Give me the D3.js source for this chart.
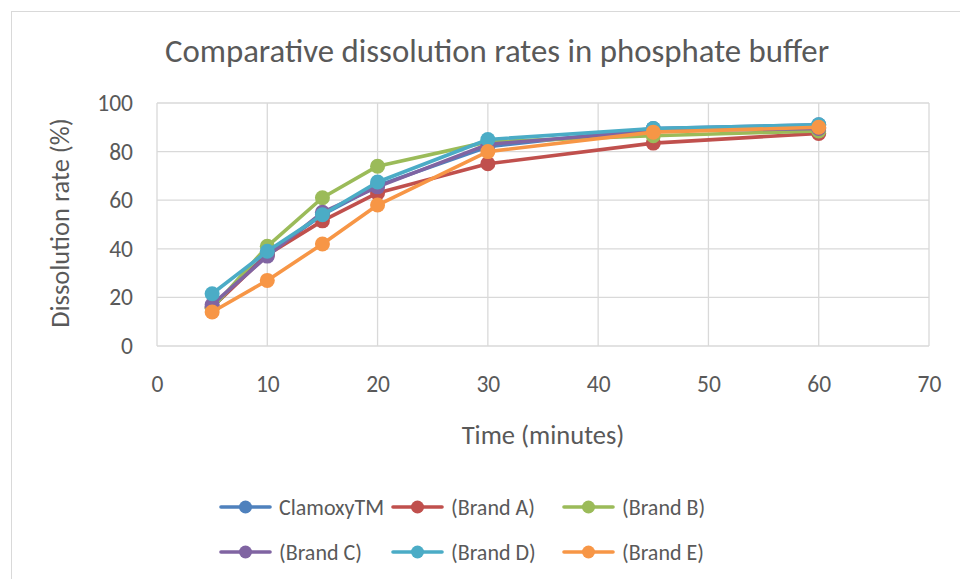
<!DOCTYPE html>
<html>
<head>
<meta charset="utf-8">
<script src="https://cdn.jsdelivr.net/npm/d3@7"></script>
<style>
  body { margin: 0; background: #fff; }
  svg text { font-family: Carlito, "Open Sans", sans-serif; fill: #595959; }
</style>
</head>
<body>
<div id="chart"></div>
<script>
// time points (minutes)
var times = [5, 10, 15, 20, 30, 45, 60];

// dissolution rate (%) per brand
var clamoxy = [16, 38, 54, 66, 82, 89.5, 91];
var brandA = [16, 37.5, 51.5, 63, 75, 83.5, 87.5];
var brandB = [15.5, 41, 61, 74, 84, 86.5, 88.5];
var brandC = [17, 37, 55, 65.5, 83, 88.5, 89.5];
var brandD = [21.5, 39, 54, 67.5, 85, 89.5, 91];
var brandE = [14, 27, 42, 58, 80, 88, 90];

var seriesNames = ["ClamoxyTM", "(Brand A)", "(Brand B)", "(Brand C)", "(Brand D)", "(Brand E)"];
var seriesValues = [clamoxy, brandA, brandB, brandC, brandD, brandE];
var colors = ["#4F81BD", "#C0504D", "#9BBB59", "#8064A2", "#4BACC6", "#F79646"];

var xTicks = [0, 10, 20, 30, 40, 50, 60, 70];
var yTicks = [0, 20, 40, 60, 80, 100];

var totalWidth = 960, totalHeight = 579;
var margin = { top: 103, right: 31, bottom: 233, left: 157 },
    width = totalWidth - margin.left - margin.right,
    height = totalHeight - margin.top - margin.bottom;

var outersvg = d3.select("#chart").append("svg")
    .attr("width", totalWidth)
    .attr("height", totalHeight);

// chart frame
outersvg.append("rect")
    .attr("x", 11.5).attr("y", 11.5)
    .attr("width", totalWidth).attr("height", totalHeight)
    .attr("fill", "none")
    .attr("stroke", "#d9d9d9");

outersvg.append("text")
    .attr("x", 497).attr("y", 62)
    .attr("text-anchor", "middle")
    .style("font-size", "32.8px")
    .text("Comparative dissolution rates in phosphate buffer");

var svg = outersvg.append("g")
    .attr("transform", "translate(" + margin.left + "," + margin.top + ")");

var x = d3.scaleLinear().domain([0, 70]).range([0, width]);
var y = d3.scaleLinear().domain([0, 100]).range([height, 0]);

// gridlines
svg.append("g").selectAll("line").data(xTicks)
    .enter().append("line")
    .attr("x1", d => x(d)).attr("x2", d => x(d))
    .attr("y1", 0).attr("y2", height)
    .attr("stroke", "#d9d9d9").attr("stroke-width", 1.3);
svg.append("g").selectAll("line").data(yTicks)
    .enter().append("line")
    .attr("x1", 0).attr("x2", width)
    .attr("y1", d => y(d)).attr("y2", d => y(d))
    .attr("stroke", "#d9d9d9").attr("stroke-width", 1.3);

var xAxis = d3.axisBottom(x).tickValues(xTicks).tickSize(0).tickPadding(29);
var yAxis = d3.axisLeft(y).tickValues(yTicks).tickSize(0).tickPadding(24);

svg.append("g")
    .attr("class", "xAxis")
    .attr("transform", "translate(0," + height + ")")
    .call(xAxis)
    .call(g => g.select(".domain").remove())
    .selectAll("text")
        .style("font-size", "23.5px");

svg.append("g")
    .attr("class", "yAxis")
    .call(yAxis)
    .call(g => g.select(".domain").remove())
    .selectAll("text")
        .style("font-size", "23.5px");

outersvg.append("text")
    .attr("x", 543).attr("y", 444)
    .attr("text-anchor", "middle")
    .style("font-size", "26.5px")
    .text("Time (minutes)");

outersvg.append("text")
    .attr("transform", "translate(69,223) rotate(-90)")
    .attr("text-anchor", "middle")
    .style("font-size", "26.5px")
    .text("Dissolution rate (%)");

var line = d3.line()
    .x((d, i) => x(times[i]))
    .y(d => y(d));

var groups = svg.selectAll(".series").data(seriesValues)
    .enter().append("g").attr("class", "series");

groups.append("path")
    .attr("d", d => line(d))
    .attr("fill", "none")
    .attr("stroke", (d, i) => colors[i])
    .attr("stroke-width", 3.6)
    .attr("stroke-linejoin", "round");

groups.each(function (vals, si) {
    d3.select(this).selectAll("circle").data(vals)
        .enter().append("circle")
        .attr("cx", (d, i) => x(times[i]))
        .attr("cy", d => y(d))
        .attr("r", 7.5)
        .attr("fill", colors[si]);
});

// legend, two rows of three
var legendCols = [221, 393, 564];
var legendRows = [507, 552];
var legend = outersvg.selectAll(".legendEntry").data(seriesNames)
    .enter().append("g").attr("class", "legendEntry")
    .attr("transform", (d, i) => "translate(" + legendCols[i % 3] + "," + legendRows[Math.floor(i / 3)] + ")");
legend.append("line")
    .attr("x1", 0).attr("x2", 49)
    .attr("stroke", (d, i) => colors[i])
    .attr("stroke-width", 3.6)
    .attr("stroke-linecap", "round");
legend.append("circle")
    .attr("cx", 24.5).attr("r", 6.5)
    .attr("fill", (d, i) => colors[i]);
legend.append("text")
    .attr("x", 58).attr("y", 8)
    .style("font-size", "22px")
    .text(d => d);
</script>
</body>
</html>
